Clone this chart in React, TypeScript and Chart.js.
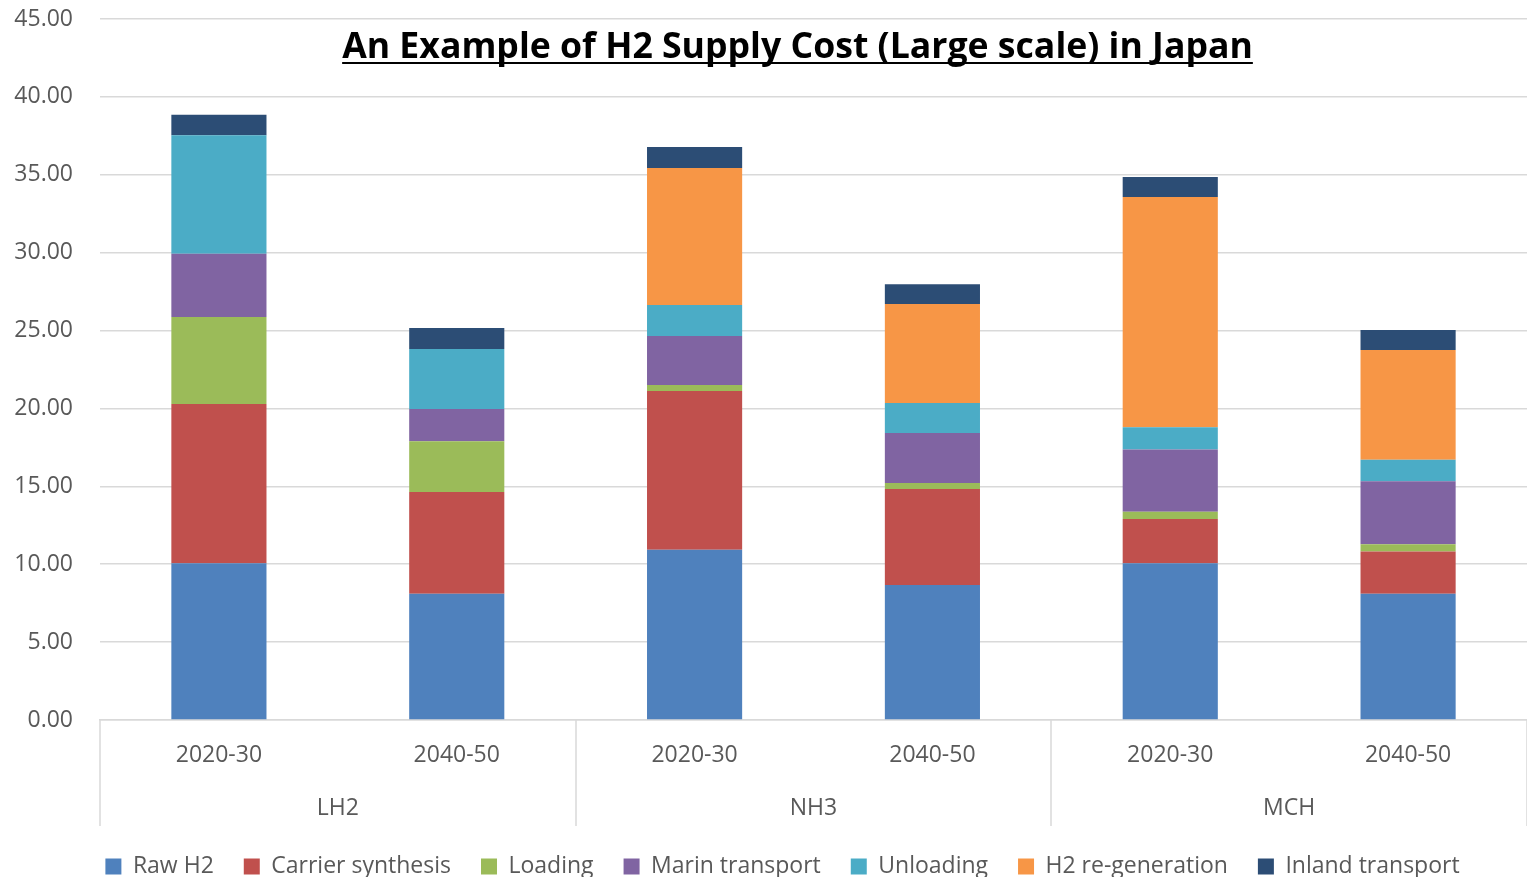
import React, { useEffect, useRef } from "react";
import { Chart, registerables } from "chart.js";

Chart.register(...registerables);

const categories = ["2020-30", "2040-50", "2020-30", "2040-50", "2020-30", "2040-50"];
const groups = ["LH2", "NH3", "MCH"];
const yTicks = [0, 5, 10, 15, 20, 25, 30, 35, 40, 45];

const rawH2 = [10.07, 8.1, 10.93, 8.66, 10.07, 8.1];
const carrierSynthesis = [10.21, 6.53, 10.19, 6.17, 2.83, 2.72];
const loading = [5.59, 3.27, 0.39, 0.38, 0.47, 0.47];
const marinTransport = [4.06, 2.06, 3.14, 3.21, 4.0, 4.03];
const unloading = [7.6, 3.85, 1.99, 1.93, 1.42, 1.39];
const h2Regeneration = [0, 0, 8.79, 6.35, 14.78, 7.04];
const inlandTransport = [1.33, 1.35, 1.35, 1.28, 1.28, 1.28];

const seriesNames = ["Raw H2", "Carrier synthesis", "Loading", "Marin transport", "Unloading", "H2 re-generation", "Inland transport"];
const seriesColors = ["#4F81BD", "#C0504D", "#9BBB59", "#8064A2", "#4BACC6", "#F79646", "#2C4D75"];
const seriesValues = [rawH2, carrierSynthesis, loading, marinTransport, unloading, h2Regeneration, inlandTransport];

const titleText = "An Example of H2 Supply Cost (Large scale) in Japan";
const FONT = "'Open Sans', 'Noto Sans', sans-serif";
const TEXT_COLOR = "#595959";
const GRID_COLOR = "#D9D9D9";

const legendFitPlugin = {
  id: "legendFit",
  beforeInit(chart: any) {
    const legend = chart.legend;
    if (!legend) return;
    const orig = legend.fit;
    legend.fit = function () {
      orig.call(this);
      this.height -= 11;
    };
  },
  afterLayout(chart: any) {
    if (chart.legend) chart.legend.left += 38;
  },
};

const decorPlugin = {
  id: "decor",
  afterDraw(chart: any) {
    const ctx = chart.ctx as CanvasRenderingContext2D;
    const x = chart.scales.x;
    const area = chart.chartArea;
    const step = x.getPixelForValue(1) - x.getPixelForValue(0);
    ctx.save();
    ctx.strokeStyle = GRID_COLOR;
    ctx.lineWidth = 1.5;
    for (let i = 0; i <= categories.length; i += 2) {
      const px = Math.round(x.getPixelForValue(0) - step / 2 + i * step);
      ctx.beginPath();
      ctx.moveTo(px, area.bottom);
      ctx.lineTo(px, area.bottom + 106);
      ctx.stroke();
    }
    ctx.fillStyle = TEXT_COLOR;
    ctx.font = `23px ${FONT}`;
    ctx.textAlign = "center";
    ctx.textBaseline = "middle";
    groups.forEach((g, gi) => {
      const cx = (x.getPixelForValue(gi * 2) + x.getPixelForValue(gi * 2 + 1)) / 2;
      ctx.fillText(g, cx, area.bottom + 88);
    });
    ctx.font = `bold 100px ${FONT}`;
    const w100 = ctx.measureText(titleText).width;
    const size = (100 * 911) / w100;
    ctx.font = `bold ${size}px ${FONT}`;
    ctx.fillStyle = "#000000";
    ctx.textAlign = "center";
    ctx.textBaseline = "alphabetic";
    const tx = 797.5;
    const ty = 58;
    ctx.fillText(titleText, tx, ty);
    const tw = ctx.measureText(titleText).width;
    ctx.strokeStyle = "#000000";
    ctx.lineWidth = 2;
    ctx.beginPath();
    ctx.moveTo(tx - tw / 2, ty + 5);
    ctx.lineTo(tx + tw / 2, ty + 5);
    ctx.stroke();
    ctx.restore();
  },
};

export default function App() {
  const ref = useRef<HTMLCanvasElement | null>(null);
  useEffect(() => {
    document.body.style.margin = "0";
    if (!ref.current) return;
    const chart = new Chart(ref.current, {
      type: "bar",
      data: {
        labels: categories,
        datasets: seriesValues.map((vals, i) => ({
          label: seriesNames[i],
          data: vals,
          backgroundColor: seriesColors[i],
          borderWidth: 0,
          barPercentage: 0.4,
          categoryPercentage: 1,
        })),
      },
      options: {
        responsive: false,
        animation: false,
        layout: { padding: { top: 0, right: 0, left: 0, bottom: 2 } },
        plugins: {
          legend: {
            position: "bottom",
            labels: {
              color: TEXT_COLOR,
              font: { family: FONT, size: 23 },
              boxWidth: 16,
              boxHeight: 16,
              padding: 30,
            },
          },
          tooltip: { enabled: false },
        },
        scales: {
          x: {
            stacked: true,
            grid: { display: false, drawTicks: false },
            border: { display: true, color: GRID_COLOR, width: 1.5 },
            ticks: { color: TEXT_COLOR, font: { family: FONT, size: 23 }, padding: 22 },
            afterFit(scale: any) {
              scale.height = 105;
            },
          },
          y: {
            stacked: true,
            min: 0,
            max: 45,
            afterBuildTicks(scale: any) {
              scale.ticks = yTicks.map((v) => ({ value: v }));
            },
            grid: { color: GRID_COLOR, lineWidth: 1.5, drawTicks: false },
            border: { display: false },
            ticks: {
              color: TEXT_COLOR,
              font: { family: FONT, size: 23 },
              padding: 27,
              callback: (v: any) => Number(v).toFixed(2),
            },
            afterFit(scale: any) {
              scale.width = 100;
              scale.paddingTop = 19;
              scale.paddingBottom = 0;
            },
          },
        },
      },
      plugins: [legendFitPlugin, decorPlugin],
    });
    return () => chart.destroy();
  }, []);
  return (
    <div style={{ width: 1527, height: 879 }}>
      <canvas ref={ref} width={1527} height={879} />
    </div>
  );
}
